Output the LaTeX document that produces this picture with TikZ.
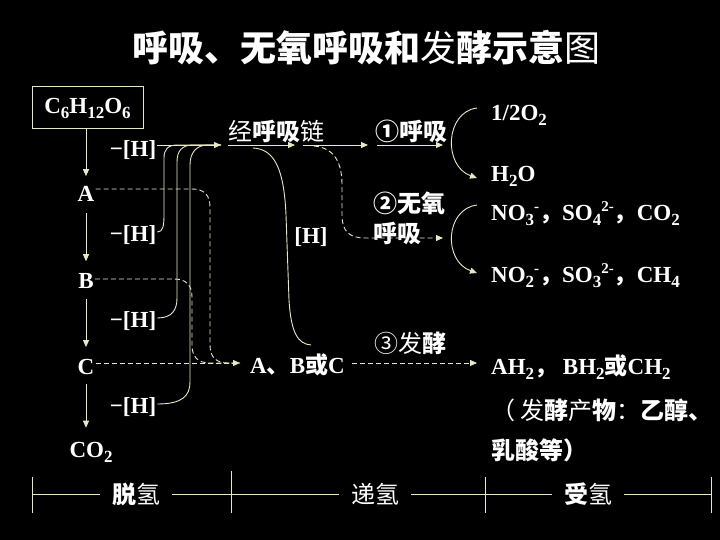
\documentclass[tikz,border=0pt]{standalone}
\usepackage{fontspec}
\setmainfont{Liberation Serif}
\newfontfamily\cjk{Noto Sans CJK SC}
\usetikzlibrary{arrows.meta,calc}
\definecolor{lc}{RGB}{232,232,196}
\newcommand\chsub[1]{\raisebox{-5pt}{\fontsize{17}{17}\selectfont #1}}
\newcommand\chsup[1]{\raisebox{9pt}{\fontsize{15}{15}\selectfont #1}}
\begin{document}
\begin{tikzpicture}[x=1pt,y=-1pt,
  lnk/.style={draw=lc, line width=0.9pt},
  arr/.style={lnk, -{Triangle[length=7pt,width=6pt]}},
  dsh/.style={dash pattern=on 5pt off 3pt},
  chem/.style={text=white, font=\bfseries\fontsize{23}{26}\selectfont, inner sep=1pt},
  zh/.style={text=white, font=\cjk\fontsize{24}{28}\selectfont, inner sep=1pt},
  zhb/.style={text=white, font=\cjk\bfseries\fontsize{24}{28}\selectfont, inner sep=1pt},
  bar/.style={zh, fill=black, inner xsep=12pt},
]
\fill[black] (0,0) rectangle (720,540);
\useasboundingbox (0,0) rectangle (720,540);

% title
\node[text=white, font=\cjk\bfseries\fontsize{36}{40}\selectfont] (title) at (366,48)
  {呼吸、无氧呼吸和{\mdseries 发}酵示意{\mdseries 图}};

% left column
\node[chem, draw=lc, line width=1pt, minimum width=111pt, minimum height=42pt] (glc) at (87.5,108)
  {C\chsub{6}H\chsub{12}O\chsub{6}};
\node[chem] (A) at (86,194) {A};
\node[chem] (B) at (86,281) {B};
\node[chem] (C) at (86,367) {C};
\node[chem] (co2) at (91,452) {CO\chsub{2}};
\draw[arr, shorten >=9pt] (glc.south -| A) -- (A.north);
\draw[arr, shorten <=10pt, shorten >=11pt] (A.south) -- (B.north);
\draw[arr, shorten <=9pt, shorten >=11pt] (B.south) -- (C.north);
\draw[arr, shorten <=8pt, shorten >=13pt] (C.south) -- (co2.north -| C);

\node[chem] (h1) at (133,150) {−[H]};
\node[chem] (h2) at (133,235) {−[H]};
\node[chem] (h3) at (133,321) {−[H]};
\node[chem] (h4) at (133,407) {−[H]};

% hydrogen to the chain
\coordinate (J) at (221,145);
\draw[arr] (h1.east |- J) -- (J);
\draw[lnk] ([yshift=3pt]h2.east) .. controls (163,232) and (164,226) .. (164,214) -- (164,158)
  .. controls (164,149) and (168,145) .. (178,145) -- (J);
\draw[lnk] ([yshift=3pt]h3.east) .. controls (172,318) and (177,310) .. (177,298) -- (177,162)
  .. controls (177,151) and (182,145) .. (193,145) -- (J);
\draw[lnk] ([yshift=3pt]h4.east) .. controls (182,404) and (190,396) .. (190,382) -- (190,165)
  .. controls (190,153) and (196,145) .. (208,145) -- (J);

% chain
\node[zh] (chain) at (276,131) {经{\bfseries 呼吸}链};
\node[zhb] (r1) at (411,131) {①呼吸};
\coordinate (k0) at (228,145); \coordinate (k1) at (295,145);
\coordinate (k2) at (303,145); \coordinate (k3) at (368,145);
\coordinate (k4) at (377,145); \coordinate (k5) at (443,145);
\draw[arr] (k0) -- (k1);
\draw[arr] (k2) -- (k3);
\draw[arr] (k4) -- (k5);

% to anaerobic respiration
\node[zhb, anchor=west] (r2a) at (372,203) {②无氧};
\node[zhb, anchor=west] (r2b) at (372,233) {呼吸};
\draw[arr, dsh] (314,146) .. controls (336,148) and (342,165) .. (342,185) -- (342,215)
  .. controls (342,232) and (350,238) .. (365,238) -- (443,238);
\node[chem] (hh) at (311,237) {[H]};

% to fermentation
\draw[lnk] (253,148) .. controls (275,149) and (284,170) .. (286,215) -- (289,300)
  .. controls (291,333) and (298,344) .. (311,345);

\coordinate (m) at (240,363);
\draw[lnk, dsh] ([yshift=5pt]A.east) -- (192,189) .. controls (204,189) and (210,195) .. (210,207)
  -- (210,345) .. controls (210,357) and (216,363) .. (228,363) -- (m);
\draw[lnk, dsh] ([yshift=2pt]B.east) -- (174,279) .. controls (186,279) and (192,285) .. (192,297)
  -- (192,345) .. controls (192,357) and (198,363) .. (210,363) -- (m);
\draw[arr, dsh] ([yshift=4pt]C.east) -- (m);

\node[chem, anchor=west] (abc) at (249,365) {A{\cjk 、}B{\cjk\bfseries 或}C};
\node[zh, anchor=west] (r3) at (373,343) {③发{\bfseries 酵}};
\coordinate (f1) at (477,363);
\draw[arr, dsh] ([xshift=6pt]abc.east |- m) -- (f1);

% acceptors
\node[chem, anchor=west] (o2) at (490,115) {1/2O\chsub{2}};
\node[chem, anchor=west] (h2o) at (490,176) {H\chsub{2}O};
\node[chem, anchor=west] (no3) at (490,214)
  {NO\chsub{3}\chsup{-}{\cjk ，}SO\chsub{4}\chsup{2-}{\cjk ，}CO\chsub{2}};
\node[chem, anchor=west] (no2) at (490,276)
  {NO\chsub{2}\chsup{-}{\cjk ，}SO\chsub{3}\chsup{2-}{\cjk ，}CH\chsub{4}};
\node[chem, anchor=west] (ah) at (490,367)
  {AH\chsub{2}{\cjk ，} BH\chsub{2}{\cjk\bfseries 或}CH\chsub{2}};
\node[zh, anchor=west] (fer1) at (490,410) {（ 发{\bfseries 酵}产{\bfseries 物}：{\bfseries 乙醇、}};
\node[zhb, anchor=west] (fer2) at (490,450) {乳酸等）};

\coordinate (a1s) at (477,108); \coordinate (a1e) at (477,178);
\coordinate (a2s) at (477,205); \coordinate (a2e) at (477,273);
\draw[arr] (a1s) .. controls (445,112) and (443,166) .. (a1e);
\draw[arr] (a2s) .. controls (445,209) and (443,261) .. (a2e);

% bottom bar
\coordinate (t1) at (32,494); \coordinate (t2) at (231,494);
\coordinate (t3) at (485,494); \coordinate (t4) at (711,494);
\draw[lnk] (t1) -- (t4);
\draw[lnk] ([yshift=17pt]t1) -- ([yshift=-19pt]t1);
\draw[lnk] ([yshift=23pt]t2) -- ([yshift=-19pt]t2);
\draw[lnk] ([yshift=17pt]t3) -- ([yshift=-19pt]t3);
\draw[lnk] ([yshift=17pt]t4) -- ([yshift=-19pt]t4);
\node[bar, font=\cjk\bfseries\fontsize{24}{28}\selectfont] (l1) at (136,494) {脱{\mdseries 氢}};
\node[bar] (l2) at (375,494) {递氢};
\node[bar, font=\cjk\bfseries\fontsize{24}{28}\selectfont] (l3) at (588,494) {受{\mdseries 氢}};
\end{tikzpicture}
\end{document}
